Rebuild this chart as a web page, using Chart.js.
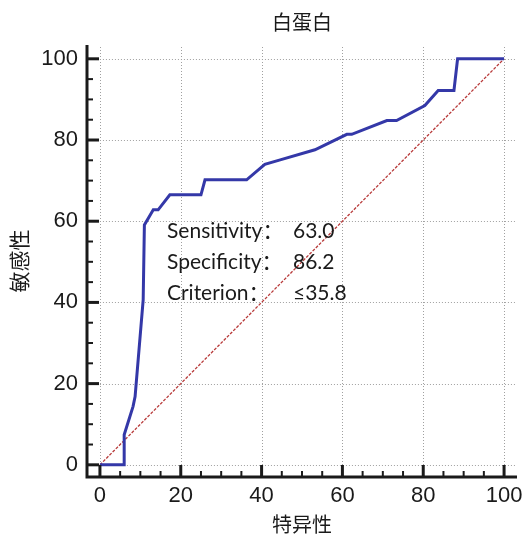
<!DOCTYPE html>
<html>
<head>
<meta charset="utf-8">
<script src="https://cdn.jsdelivr.net/npm/chart.js@4.4.1/dist/chart.umd.min.js"></script>
<style>
  html, body { margin: 0; padding: 0; background: #fff; }
  #wrap { width: 523px; height: 540px; }
</style>
</head>
<body>
<div id="wrap"><canvas id="rocChart" width="523" height="540"></canvas></div>
<script>
// ROC 曲线数据 (100-特异性, 敏感性)
const rocX = [0, 6.0, 6.0, 8.2, 8.7, 10.7, 11.0, 13.2, 14.4, 17.3, 25.0, 26.0, 36.3, 40.8, 44.6, 53.2, 61.1, 62.3, 71.0, 73.4, 80.4, 83.7, 87.6, 88.5, 100];
const rocY = [0, 0, 7.4, 14.4, 16.8, 40.6, 59.1, 62.8, 62.8, 66.5, 66.5, 70.2, 70.2, 74.0, 75.1, 77.6, 81.4, 81.4, 84.8, 84.8, 88.5, 92.2, 92.2, 100, 100];
const refX = [0, 100];
const refY = [0, 100];
const majorTicks = [0, 20, 40, 60, 80, 100];
const minorStep = 5;
const chartTitle = '白蛋白';
const xTitle = '特异性';
const yTitle = '敏感性';
const annLabels = ['Sensitivity：', 'Specificity：', 'Criterion：'];
const annValues = ['63.0', '86.2', '≤35.8'];

const cjk = '"Noto Sans CJK SC", "Noto Sans", sans-serif';

function toPoints(xs, ys) {
    return xs.map((v, i) => ({x: v, y: ys[i]}));
}

// 网格、刻度、坐标轴和标注
const axisDecor = {
    id: 'axisDecor',
    beforeDatasetsDraw(chart) {
        const {ctx, chartArea: a, scales: {x, y}} = chart;
        ctx.save();
        ctx.strokeStyle = '#a0a0a0';
        ctx.lineWidth = 1;
        ctx.setLineDash([1, 2]);
        majorTicks.forEach(v => {
            const px = Math.round(x.getPixelForValue(v)) + 0.5;
            ctx.beginPath();
            ctx.moveTo(px, a.top + 2);
            ctx.lineTo(px, a.bottom);
            ctx.stroke();
            const py = Math.round(y.getPixelForValue(v)) + 0.5;
            ctx.beginPath();
            ctx.moveTo(x.getPixelForValue(0), py);
            ctx.lineTo(a.right - 2, py);
            ctx.stroke();
        });
        ctx.restore();
    },
    afterDraw(chart) {
        const {ctx, chartArea: a, scales: {x, y}} = chart;
        ctx.save();
        ctx.strokeStyle = '#1a1a1a';
        ctx.lineCap = 'butt';
        // 刻度 (朝内)
        for (let v = 0; v <= 100; v += minorStep) {
            const major = majorTicks.includes(v);
            ctx.lineWidth = major ? 3 : 2;
            const len = major ? 12 : 6;
            const px = x.getPixelForValue(v);
            ctx.beginPath();
            ctx.moveTo(px, a.bottom);
            ctx.lineTo(px, a.bottom - len);
            ctx.stroke();
            const py = y.getPixelForValue(v);
            ctx.beginPath();
            ctx.moveTo(a.left, py);
            ctx.lineTo(a.left + len, py);
            ctx.stroke();
        }
        // 坐标轴
        ctx.lineWidth = 3;
        ctx.beginPath();
        ctx.moveTo(a.left, a.top);
        ctx.lineTo(a.left, a.bottom);
        ctx.lineTo(a.right, a.bottom);
        ctx.stroke();
        // 标注文字
        ctx.fillStyle = '#1a1a1a';
        ctx.font = '21px Lato, "Noto Sans CJK SC", sans-serif';
        ctx.textBaseline = 'alphabetic';
        const baselines = [238, 269, 300];
        annLabels.forEach((t, i) => {
            ctx.textAlign = 'left';
            ctx.fillText(t, 167, baselines[i]);
            ctx.fillText(annValues[i], 293, baselines[i]);
        });
        ctx.restore();
    }
};

const ctx = document.getElementById('rocChart').getContext('2d');
new Chart(ctx, {
    type: 'scatter',
    data: {
        datasets: [
            {
                label: 'ROC',
                data: toPoints(rocX, rocY),
                showLine: true,
                borderColor: '#3438a8',
                borderWidth: 3,
                pointRadius: 0,
                tension: 0,
                order: 1
            },
            {
                label: 'ref',
                data: toPoints(refX, refY),
                showLine: true,
                borderColor: '#b83a3a',
                borderWidth: 1.3,
                borderDash: [3, 1.5],
                pointRadius: 0,
                order: 2
            }
        ]
    },
    options: {
        responsive: false,
        animation: false,
        layout: {padding: {left: 0, right: 6, top: 0, bottom: 0}},
        plugins: {
            legend: {display: false},
            tooltip: {enabled: false},
            title: {
                display: true,
                text: chartTitle,
                fullSize: false,
                color: '#1a1a1a',
                font: {family: cjk, size: 20, weight: 'normal'},
                padding: {top: 10, bottom: 11}
            }
        },
        scales: {
            x: {
                type: 'linear',
                min: -3.2,
                max: 103.2,
                afterBuildTicks: s => { s.ticks = majorTicks.map(v => ({value: v})); },
                afterFit: s => { s.height = 63; s.paddingLeft = 0; s.paddingRight = 0; },
                grid: {display: false, drawTicks: false},
                border: {display: false},
                ticks: {
                    color: '#1a1a1a',
                    padding: 6,
                    maxRotation: 0,
                    font: {family: '"Liberation Sans", Arial, sans-serif', size: 22}
                },
                title: {
                    display: true,
                    text: xTitle,
                    color: '#1a1a1a',
                    font: {family: cjk, size: 20},
                    padding: {top: 0, bottom: 4}
                }
            },
            y: {
                type: 'linear',
                min: -3,
                max: 103.4,
                afterBuildTicks: s => { s.ticks = majorTicks.map(v => ({value: v})); },
                afterFit: s => { s.width = 87; s.paddingTop = 0; s.paddingBottom = 0; },
                grid: {display: false, drawTicks: false},
                border: {display: false},
                ticks: {
                    color: '#1a1a1a',
                    padding: 9,
                    font: {family: '"Liberation Sans", Arial, sans-serif', size: 22}
                },
                title: {
                    display: true,
                    text: yTitle,
                    color: '#1a1a1a',
                    font: {family: cjk, size: 21},
                    padding: {top: 6, bottom: 0}
                }
            }
        }
    },
    plugins: [axisDecor]
});
</script>
</body>
</html>
